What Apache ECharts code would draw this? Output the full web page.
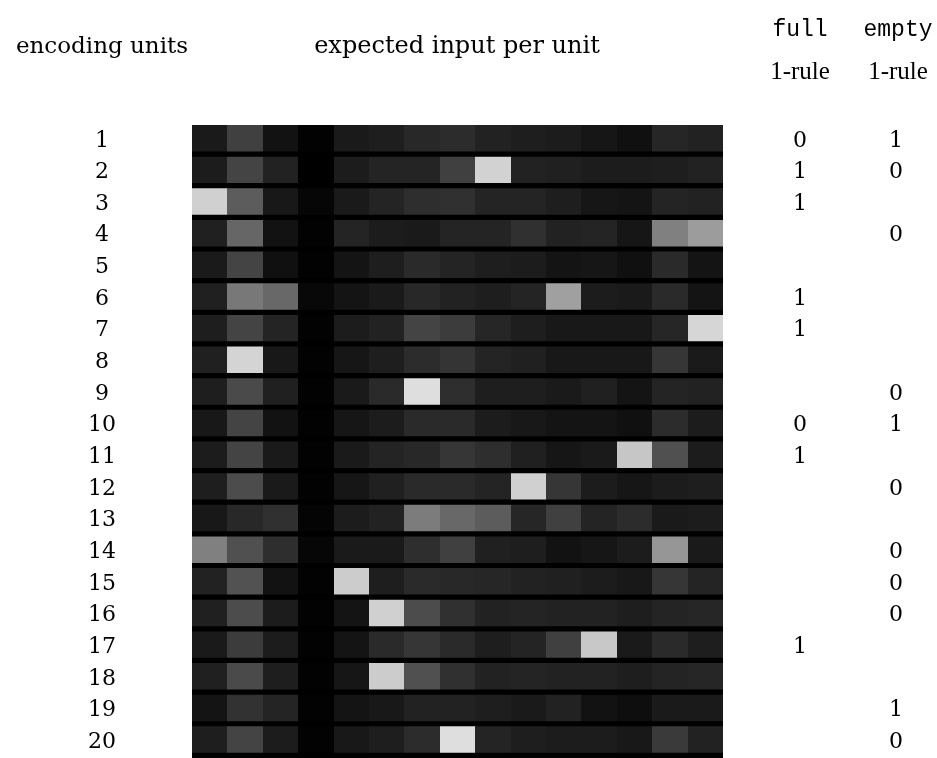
<!DOCTYPE html>
<html>
<head>
<meta charset="utf-8">
<script src="https://cdn.jsdelivr.net/npm/echarts@6/dist/echarts.min.js"></script>
<style>html,body{margin:0;padding:0;background:#fff}#c{width:937px;height:758px}</style>
</head>
<body>
<div id="c"></div>
<script>
const units = ['1','2','3','4','5','6','7','8','9','10','11','12','13','14','15','16','17','18','19','20'];
const inputs = ['i1','i2','i3','i4','i5','i6','i7','i8','i9','i10','i11','i12','i13','i14','i15'];
// grey level (0 = black, 255 = white) of each cell, one row per encoding unit
const row1  = [26, 64, 18, 2, 26, 30, 40, 44, 34, 30, 28, 22, 16, 38, 34];
const row2  = [28, 68, 34, 0, 28, 36, 36, 64, 210, 34, 32, 28, 28, 30, 34];
const row3  = [208, 92, 24, 6, 26, 36, 46, 48, 36, 36, 30, 22, 20, 36, 34];
const row4  = [32, 102, 18, 2, 36, 28, 26, 36, 36, 48, 34, 36, 22, 128, 156];
const row5  = [26, 68, 16, 2, 20, 30, 42, 36, 30, 28, 20, 22, 16, 42, 20];
const row6  = [32, 120, 104, 8, 20, 26, 40, 34, 30, 36, 160, 28, 26, 42, 20];
const row7  = [30, 68, 36, 2, 28, 34, 68, 60, 38, 30, 24, 24, 24, 38, 214];
const row8  = [32, 212, 24, 2, 22, 30, 44, 52, 36, 32, 24, 24, 24, 54, 26];
const row9  = [30, 74, 32, 2, 26, 42, 222, 46, 30, 30, 26, 32, 20, 36, 34];
const row10 = [24, 68, 18, 2, 22, 28, 42, 42, 28, 24, 20, 20, 16, 44, 28];
const row11 = [28, 68, 26, 2, 26, 36, 40, 54, 46, 32, 22, 26, 198, 80, 28];
const row12 = [30, 76, 26, 2, 22, 32, 42, 42, 36, 208, 54, 28, 22, 28, 30];
const row13 = [24, 40, 48, 4, 28, 34, 124, 104, 92, 38, 64, 36, 44, 26, 28];
const row14 = [128, 80, 46, 6, 26, 26, 46, 64, 32, 30, 18, 22, 28, 150, 26];
const row15 = [34, 82, 18, 2, 204, 30, 42, 40, 38, 34, 32, 28, 24, 54, 36];
const row16 = [32, 76, 28, 2, 20, 208, 76, 48, 34, 36, 34, 34, 30, 36, 38];
const row17 = [26, 60, 28, 2, 20, 42, 54, 42, 30, 36, 64, 200, 26, 42, 30];
const row18 = [32, 74, 30, 2, 22, 204, 80, 48, 34, 36, 34, 34, 30, 36, 38];
const row19 = [20, 50, 36, 2, 20, 24, 34, 34, 30, 26, 34, 18, 14, 26, 26];
const row20 = [30, 68, 28, 2, 24, 30, 44, 222, 36, 30, 28, 28, 24, 58, 34];
const rows = [row1,row2,row3,row4,row5,row6,row7,row8,row9,row10,row11,row12,row13,row14,row15,row16,row17,row18,row19,row20];
// rule outputs per unit ('' = none)
const fullRule  = ['0','1','1','','','1','1','','','0','1','','','','','','1','','',''];
const emptyRule = ['1','0','','0','','','','','0','1','','0','','0','0','0','','','1','0'];

const cells = [];
rows.forEach((r, yi) => r.forEach((v, xi) => cells.push([xi, yi, v])));

const serif = '"DejaVu Serif", "Liberation Serif", serif';
const serif2 = '"Liberation Serif", "DejaVu Serif", serif';
const mono = '"Liberation Mono", "DejaVu Sans Mono", monospace';
const lbl = {align: 'center', fontFamily: serif, fontSize: 22, color: '#000', padding: [0, 0, 10, 0]};
const chart = echarts.init(document.getElementById('c'), null, {renderer: 'canvas'});
chart.setOption({
  animation: false,
  backgroundColor: '#fff',
  grid: {left: 192, width: 531, top: 125, height: 636, show: true, backgroundColor: '#000', borderWidth: 0},
  xAxis: {type: 'category', data: inputs, show: false},
  yAxis: [
    {type: 'category', data: units, inverse: true, axisLine: {show: false}, axisTick: {show: false},
     axisLabel: Object.assign({margin: 90}, lbl)},
    {type: 'category', data: units, inverse: true, position: 'right', axisLine: {show: false}, axisTick: {show: false},
     axisLabel: Object.assign({margin: 77, formatter: (v, i) => fullRule[i]}, lbl)},
    {type: 'category', data: units, inverse: true, position: 'right', offset: 96, axisLine: {show: false}, axisTick: {show: false},
     axisLabel: Object.assign({margin: 77, formatter: (v, i) => emptyRule[i]}, lbl)}
  ],
  series: [{
    type: 'custom',
    data: cells,
    encode: {x: 0, y: 1},
    renderItem: function (params, api) {
      const c = api.coord([api.value(0), api.value(1)]);
      const s = api.size([1, 1]);
      const v = Math.round(api.value(2));
      const x0 = Math.round(c[0] - s[0] / 2), x1 = Math.round(c[0] + s[0] / 2);
      const y0 = c[1] - s[1] / 2;
      return {type: 'rect', shape: {x: x0, y: y0, width: x1 - x0, height: s[1] * 0.835},
        style: {fill: 'rgb(' + v + ',' + v + ',' + v + ')'}};
    }
  }],
  graphic: [
    {type: 'text', x: 102, y: 47, style: {text: 'encoding units', align: 'center', verticalAlign: 'middle', font: '23px ' + serif, fill: '#000'}},
    {type: 'text', x: 457, y: 47, style: {text: 'expected input per unit', align: 'center', verticalAlign: 'middle', font: '24px ' + serif, fill: '#000'}},
    {type: 'text', x: 800, y: 30, style: {text: 'full', align: 'center', verticalAlign: 'middle', font: '23px ' + mono, fill: '#000'}},
    {type: 'text', x: 898, y: 30, style: {text: 'empty', align: 'center', verticalAlign: 'middle', font: '23px ' + mono, fill: '#000'}},
    {type: 'text', x: 800, y: 72, style: {text: '1-rule', align: 'center', verticalAlign: 'middle', font: '25px ' + serif2, fill: '#000'}},
    {type: 'text', x: 898, y: 72, style: {text: '1-rule', align: 'center', verticalAlign: 'middle', font: '25px ' + serif2, fill: '#000'}}
  ]
});
</script>
</body>
</html>
